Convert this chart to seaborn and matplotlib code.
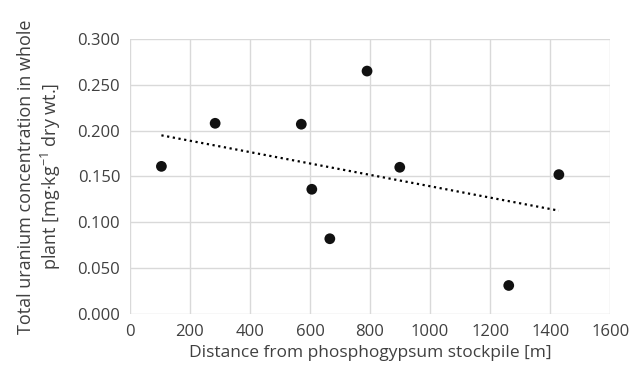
import numpy as np
import pandas as pd
import seaborn as sns
from matplotlib import pyplot as plt

# values
distance_m = [105, 284, 571, 606, 666, 790, 899, 1262, 1429]
uranium = [0.161, 0.208, 0.207, 0.136, 0.082, 0.265, 0.160, 0.031, 0.152]

df = pd.DataFrame({"distance": distance_m, "uranium": uranium})

sns.set_style("white")
plt.rcParams["font.family"] = ["Open Sans", "DejaVu Sans"]
plt.rcParams["mathtext.fontset"] = "custom"
plt.rcParams["mathtext.rm"] = "Open Sans"

fig = plt.figure(figsize=(6.43, 3.75), dpi=100)
ax = fig.add_axes([0.202, 0.163, 0.747, 0.733])

sns.regplot(data=df, x="distance", y="uranium", scatter=False, ci=None, ax=ax,
            truncate=True,
            line_kws=dict(color="black", linestyle=(0, (1, 1.6)), linewidth=1.6))
sns.scatterplot(data=df, x="distance", y="uranium", ax=ax, color="#111111",
                s=60, edgecolor="none", zorder=3)

ax.set_xlim(0, 1600)
ax.set_ylim(0, 0.3)
ax.set_xticks(np.arange(0, 1601, 200))
ax.set_yticks(np.arange(0, 0.301, 0.05))
ax.yaxis.set_major_formatter(plt.FormatStrFormatter("%.3f"))
ax.grid(True, color="#d9d9d9", linewidth=1)
ax.set_axisbelow(True)
for s in ax.spines.values():
    s.set_visible(False)
ax.tick_params(axis="both", length=0, labelsize=12, colors="#404040", pad=7)

ax.set_xlabel("Distance from phosphogypsum stockpile [m]", fontsize=12.5, color="#404040")
ax.set_ylabel("Total uranium concentration in whole\nplant [mg·kg$^{\\mathregular{-1}}$ dry wt.]",
              fontsize=13, color="#404040", linespacing=1.25, labelpad=10)

fig.savefig("out.png", dpi=100)
